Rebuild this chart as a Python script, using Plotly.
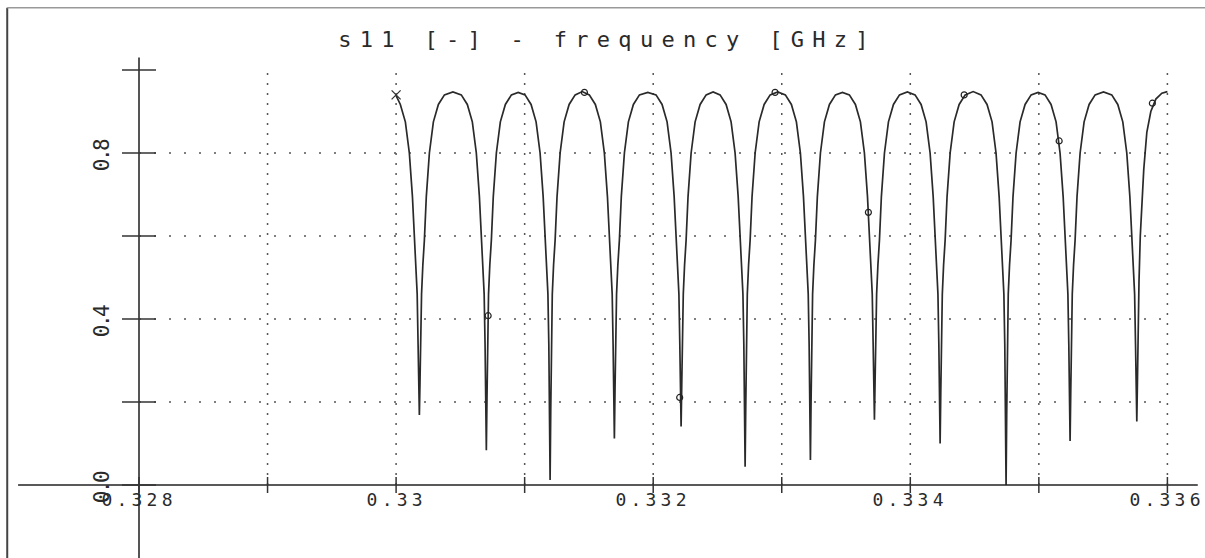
import json
import plotly.graph_objects as go

# ---------------- data ----------------
TITLE = "s11 [-] - frequency [GHz]"

# s11 curve: frequency [GHz]
FREQ = [
    # dip 1
    0.330000, 0.330033, 0.330072, 0.330103, 0.330127, 0.330142, 0.330154, 0.330164, 0.330171, 0.330176,
    0.330181, 0.330186, 0.330191, 0.330198, 0.330208, 0.330220, 0.330235, 0.330259, 0.330290, 0.330329, 0.330376,
    0.330442,
    # dip 2
    0.330507, 0.330554, 0.330593, 0.330624, 0.330648, 0.330663, 0.330675, 0.330685, 0.330692, 0.330697,
    0.330702, 0.330707, 0.330712, 0.330719, 0.330729, 0.330741, 0.330756, 0.330780, 0.330811, 0.330850, 0.330897,
    0.330950,
    # dip 3
    0.331003, 0.331050, 0.331089, 0.331120, 0.331144, 0.331159, 0.331171, 0.331181, 0.331188, 0.331193,
    0.331198, 0.331203, 0.331208, 0.331215, 0.331225, 0.331237, 0.331252, 0.331276, 0.331307, 0.331346, 0.331393,
    0.331448,
    # dip 4
    0.331503, 0.331550, 0.331589, 0.331620, 0.331644, 0.331659, 0.331671, 0.331681, 0.331688, 0.331693,
    0.331698, 0.331703, 0.331708, 0.331715, 0.331725, 0.331737, 0.331752, 0.331776, 0.331807, 0.331846, 0.331893,
    0.331958,
    # dip 5
    0.332022, 0.332069, 0.332108, 0.332139, 0.332163, 0.332178, 0.332190, 0.332200, 0.332207, 0.332212,
    0.332217, 0.332222, 0.332227, 0.332234, 0.332244, 0.332256, 0.332271, 0.332295, 0.332326, 0.332365, 0.332412,
    0.332466,
    # dip 6
    0.332520, 0.332567, 0.332606, 0.332637, 0.332661, 0.332676, 0.332688, 0.332698, 0.332705, 0.332710,
    0.332715, 0.332720, 0.332725, 0.332732, 0.332742, 0.332754, 0.332769, 0.332793, 0.332824, 0.332863, 0.332910,
    0.332969,
    # dip 7
    0.333028, 0.333075, 0.333114, 0.333145, 0.333169, 0.333184, 0.333196, 0.333206, 0.333213, 0.333218,
    0.333223, 0.333228, 0.333233, 0.333240, 0.333250, 0.333262, 0.333277, 0.333301, 0.333332, 0.333371, 0.333418,
    0.333472,
    # dip 8
    0.333526, 0.333573, 0.333612, 0.333643, 0.333667, 0.333682, 0.333694, 0.333704, 0.333711, 0.333716,
    0.333721, 0.333726, 0.333731, 0.333738, 0.333748, 0.333760, 0.333775, 0.333799, 0.333830, 0.333869, 0.333916,
    0.333977,
    # dip 9
    0.334037, 0.334084, 0.334123, 0.334154, 0.334178, 0.334193, 0.334205, 0.334215, 0.334222, 0.334227,
    0.334232, 0.334237, 0.334242, 0.334249, 0.334259, 0.334271, 0.334286, 0.334310, 0.334341, 0.334380, 0.334427,
    0.334489,
    # dip 10
    0.334550, 0.334597, 0.334636, 0.334667, 0.334691, 0.334706, 0.334718, 0.334728, 0.334735, 0.334740,
    0.334745, 0.334750, 0.334755, 0.334762, 0.334772, 0.334784, 0.334799, 0.334823, 0.334854, 0.334893, 0.334940,
    0.334994,
    # dip 11
    0.335048, 0.335095, 0.335134, 0.335165, 0.335189, 0.335204, 0.335216, 0.335226, 0.335233, 0.335238,
    0.335243, 0.335248, 0.335253, 0.335260, 0.335270, 0.335282, 0.335297, 0.335321, 0.335352, 0.335391, 0.335438,
    0.335503,
    # dip 12
    0.335567, 0.335614, 0.335653, 0.335684, 0.335708, 0.335723, 0.335735, 0.335745, 0.335752, 0.335757,
    0.335762, 0.335767, 0.335772, 0.335779, 0.335789, 0.335801, 0.335816, 0.335840, 0.335871, 0.335910, 0.335957,
    0.336000,
]

# s11 curve: magnitude [-]
S11 = [
    0.938, 0.917, 0.875, 0.800, 0.695, 0.590, 0.530, 0.460, 0.340, 0.250,
    0.169, 0.250, 0.340, 0.460, 0.530, 0.590, 0.695, 0.800, 0.875, 0.917, 0.940,
    0.947,
    0.940, 0.917, 0.875, 0.800, 0.695, 0.590, 0.530, 0.460, 0.340, 0.210,
    0.084, 0.210, 0.340, 0.460, 0.530, 0.590, 0.695, 0.800, 0.875, 0.917, 0.940,
    0.946,
    0.940, 0.917, 0.875, 0.800, 0.695, 0.590, 0.530, 0.460, 0.340, 0.180,
    0.012, 0.180, 0.340, 0.460, 0.530, 0.590, 0.695, 0.800, 0.875, 0.917, 0.940,
    0.948,
    0.940, 0.917, 0.875, 0.800, 0.695, 0.590, 0.530, 0.460, 0.340, 0.230,
    0.112, 0.230, 0.340, 0.460, 0.530, 0.590, 0.695, 0.800, 0.875, 0.917, 0.940,
    0.946,
    0.940, 0.917, 0.875, 0.800, 0.695, 0.590, 0.530, 0.460, 0.340, 0.240,
    0.141, 0.240, 0.340, 0.460, 0.530, 0.590, 0.695, 0.800, 0.875, 0.917, 0.940,
    0.947,
    0.940, 0.917, 0.875, 0.800, 0.695, 0.590, 0.530, 0.460, 0.340, 0.190,
    0.044, 0.190, 0.340, 0.460, 0.530, 0.590, 0.695, 0.800, 0.875, 0.917, 0.940,
    0.947,
    0.940, 0.917, 0.875, 0.800, 0.695, 0.590, 0.530, 0.460, 0.340, 0.200,
    0.060, 0.200, 0.340, 0.460, 0.530, 0.590, 0.695, 0.800, 0.875, 0.917, 0.940,
    0.946,
    0.940, 0.917, 0.875, 0.800, 0.695, 0.590, 0.530, 0.460, 0.340, 0.250,
    0.157, 0.250, 0.340, 0.460, 0.530, 0.590, 0.695, 0.800, 0.875, 0.917, 0.940,
    0.947,
    0.940, 0.917, 0.875, 0.800, 0.695, 0.590, 0.530, 0.460, 0.340, 0.220,
    0.100, 0.220, 0.340, 0.460, 0.530, 0.590, 0.695, 0.800, 0.875, 0.917, 0.940,
    0.948,
    0.940, 0.917, 0.875, 0.800, 0.695, 0.590, 0.530, 0.460, 0.340, 0.170,
    0.000, 0.170, 0.340, 0.460, 0.530, 0.590, 0.695, 0.800, 0.875, 0.917, 0.940,
    0.946,
    0.940, 0.917, 0.875, 0.800, 0.695, 0.590, 0.530, 0.460, 0.340, 0.220,
    0.106, 0.220, 0.340, 0.460, 0.530, 0.590, 0.695, 0.800, 0.875, 0.917, 0.940,
    0.947,
    0.940, 0.917, 0.875, 0.800, 0.695, 0.590, 0.530, 0.460, 0.340, 0.250,
    0.153, 0.250, 0.360, 0.490, 0.600, 0.680, 0.760, 0.850, 0.900, 0.930, 0.944,
    0.948,
]

# start marker (x) and sample markers (o)
START_FREQ = [0.330000]
START_S11 = [0.940]
MARK_FREQ = [0.330716, 0.331465, 0.332206, 0.332948, 0.333674, 0.334419, 0.335158, 0.335883]
MARK_S11 = [0.408, 0.946, 0.211, 0.946, 0.657, 0.940, 0.829, 0.920]

# axes
X_TICKS = [0.328, 0.329, 0.330, 0.331, 0.332, 0.333, 0.334, 0.335, 0.336]
X_LABEL_VALS = [0.328, 0.330, 0.332, 0.334, 0.336]
X_LABELS = ["0.328", "0.33", "0.332", "0.334", "0.336"]
Y_TICKS = [0.0, 0.2, 0.4, 0.6, 0.8, 1.0]
Y_GRID = [0.2, 0.4, 0.6, 0.8]
Y_LABEL_VALS = [0.0, 0.4, 0.8]
Y_LABELS = ["0.0", "0.4", "0.8"]

# ---------------- styling / layout ----------------
W, H = 1205, 558
X_RANGE = [0.3269187, 0.3362925]
Y_RANGE = [-0.1759, 1.1687]
X_ORIGIN = 0.328
Y_AXIS_TOP = 1.03
GRID_COLOR = "#555555"
AXIS_COLOR = "#222222"
TEXT_COLOR = "#2a2a2a"
MONO = "DejaVu Sans Mono"

fig = go.Figure()

fig.add_trace(go.Scatter(
    x=FREQ, y=S11, mode="lines",
    line=dict(color="#2a2a2a", width=1.7),
    hoverinfo="skip", showlegend=False,
))
fig.add_trace(go.Scatter(
    x=MARK_FREQ, y=MARK_S11, mode="markers",
    marker=dict(symbol="circle-open", size=6, color="#222222", line=dict(width=1.2, color="#222222")),
    hoverinfo="skip", showlegend=False,
))
fig.add_trace(go.Scatter(
    x=START_FREQ, y=START_S11, mode="markers",
    marker=dict(symbol="x-thin-open", size=9, color="#333333", line=dict(width=1.3, color="#333333")),
    hoverinfo="skip", showlegend=False,
))

shapes = []
# dotted grid
for v in Y_GRID:
    shapes.append(dict(type="line", xref="x", yref="y", x0=X_TICKS[0], x1=X_TICKS[-1], y0=v, y1=v,
                       line=dict(color=GRID_COLOR, width=1.5, dash="2px,13px"), layer="below"))
for f in X_TICKS[1:]:
    shapes.append(dict(type="line", xref="x", yref="y", x0=f, x1=f, y0=0, y1=Y_TICKS[-1],
                       line=dict(color=GRID_COLOR, width=1.5, dash="2px,8px"), layer="below"))
# axis lines
shapes.append(dict(type="line", xref="paper", yref="y", x0=0.015, x1=0.994, y0=0, y1=0,
                   line=dict(color=AXIS_COLOR, width=1.6)))
shapes.append(dict(type="line", xref="x", yref="y", x0=X_ORIGIN, x1=X_ORIGIN, y0=Y_RANGE[0], y1=Y_AXIS_TOP,
                   line=dict(color="#555555", width=2)))
# tick marks crossing the axes
for v in Y_TICKS:
    shapes.append(dict(type="line", xref="x", yref="y", xsizemode="pixel", xanchor=X_ORIGIN,
                       x0=-17, x1=17, y0=v, y1=v, line=dict(color="#333333", width=1.5)))
for f in X_TICKS:
    shapes.append(dict(type="line", xref="x", yref="y", ysizemode="pixel", yanchor=0,
                       x0=f, x1=f, y0=-8, y1=8, line=dict(color="#333333", width=1.5)))
# window frame
shapes.append(dict(type="line", xref="paper", yref="paper", x0=0.006, x1=0.006, y0=0, y1=0.986,
                   line=dict(color="#444444", width=2)))
shapes.append(dict(type="line", xref="paper", yref="paper", x0=0.006, x1=1, y0=0.986, y1=0.986,
                   line=dict(color="#999999", width=1.5)))

annotations = []
letter_spacing = []
annotations.append(dict(text=TITLE, xref="paper", yref="paper", x=0.5044, y=0.929,
                        xanchor="center", yanchor="middle", showarrow=False,
                        font=dict(family=MONO, size=22, color=TEXT_COLOR)))
letter_spacing.append(8.3)
for val, lab in zip(X_LABEL_VALS, X_LABELS):
    annotations.append(dict(text=lab, xref="x", yref="y", x=val, y=0, yshift=-14,
                            xanchor="center", yanchor="middle", showarrow=False,
                            font=dict(family=MONO, size=18, color=TEXT_COLOR)))
    letter_spacing.append(4.2)
for val, lab in zip(Y_LABEL_VALS, Y_LABELS):
    annotations.append(dict(text=lab, xref="x", yref="y", x=X_ORIGIN, y=val, xshift=-37, yshift=-3,
                            textangle=-90, xanchor="center", yanchor="middle", showarrow=False,
                            font=dict(family=MONO, size=21, color=TEXT_COLOR)))
    letter_spacing.append(-2.5)

fig.update_layout(
    width=W, height=H,
    margin=dict(l=0, r=0, t=0, b=0, pad=0),
    paper_bgcolor="white", plot_bgcolor="white",
    showlegend=False, hovermode=False,
    xaxis=dict(range=X_RANGE, visible=False, fixedrange=True),
    yaxis=dict(range=Y_RANGE, visible=False, fixedrange=True),
    shapes=shapes, annotations=annotations,
)

post = """
document.body.style.margin = '0';
var gd = document.getElementById('{plot_id}');
var LS = %s;
function sp() {
  gd.querySelectorAll('g.annotation').forEach(function (g) {
    var i = parseInt(g.getAttribute('data-index'));
    var t = g.querySelector('text.annotation-text');
    if (t && LS[i]) { t.style.letterSpacing = LS[i] + 'px'; }
  });
}
sp();
gd.on('plotly_afterplot', sp);
""" % json.dumps(letter_spacing)

fig.write_html("out.html", config={"displayModeBar": False}, post_script=post)
